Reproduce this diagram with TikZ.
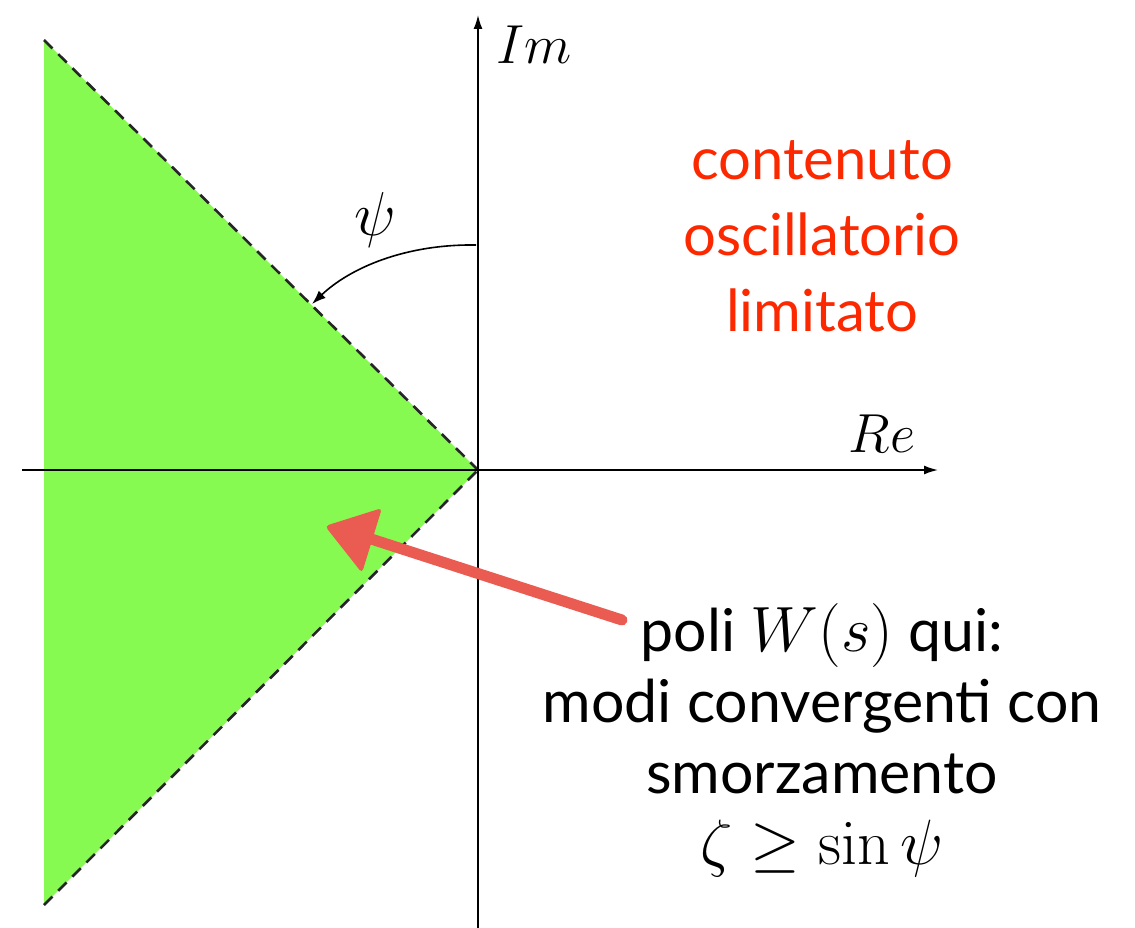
\RequirePackage{fix-cm}
\documentclass[tikz,border=0pt]{standalone}
\usepackage[no-math]{fontspec}
\setmainfont{Lato}
\usetikzlibrary{arrows.meta}
\definecolor{regiongreen}{RGB}{134,250,80}
\definecolor{labelred}{RGB}{252,40,0}
\definecolor{arrowred}{RGB}{234,92,82}
\newcommand{\bigmath}[1]{{\fontsize{64}{71}\selectfont$#1$}}
\tikzset{
  axis/.style={line width=1.6pt,-{Latex[length=14pt,width=9pt]}},
  bound/.style={line width=2.6pt,dash pattern=on 12pt off 8pt,black!85},
  bigtext/.style={font=\fontsize{59}{71}\selectfont,align=center},
  redtext/.style={font=\fontsize{58}{76}\selectfont,align=center,text=labelred},
  axlabel/.style={font=\fontsize{55}{60}\selectfont}
}
\begin{document}
\begin{tikzpicture}[x=1pt,y=-1pt]
\useasboundingbox (0,0) rectangle (1135,928);
\coordinate (O) at (478,470);
\coordinate (TL) at (44,40);
\coordinate (BL) at (44,905);
\fill[regiongreen] (TL) -- (O) -- (BL) -- cycle;
\draw[bound] (TL) -- (O);
\draw[bound] (BL) -- (O);
\coordinate (xL) at (22,470);
\coordinate (xR) at (938,470);
\coordinate (yB) at (478,928);
\coordinate (yT) at (478,15);
\draw[axis] (xL) -- (xR);
\draw[axis] (yB) -- (yT);
\node[axlabel] (im) at (534,45) {$Im$};
\node[axlabel] (re) at (882,434) {$Re$};
\node[axlabel,font=\fontsize{62}{62}\selectfont] (psi) at (375,220) {$\psi$};
\coordinate (arcS) at (476,245);
\coordinate (arcE) at (312,304);
\draw[line width=1.6pt,-{Latex[length=14pt,width=10pt]}] (arcS) .. controls (405,244) and (350,268) .. (arcE);
\node[redtext] (osc) at (822,236) {contenuto\\oscillatorio\\limitato};
\node[bigtext] (poli) at (822,740) {poli \bigmath{W(s)} qui:\\modi convergenti con\\smorzamento\\\bigmath{\zeta\geq\sin\psi}};
\coordinate (tail) at (622,620);
\coordinate (tip) at (325,526);
\coordinate (hA) at (382,508);
\coordinate (hB) at (362,573);
\draw[arrowred,line width=11pt,line cap=round] (tail) -- (368,538);
\fill[arrowred,rounded corners=4pt] (tip) -- (hA) -- (hB) -- cycle;
\end{tikzpicture}
\end{document}
